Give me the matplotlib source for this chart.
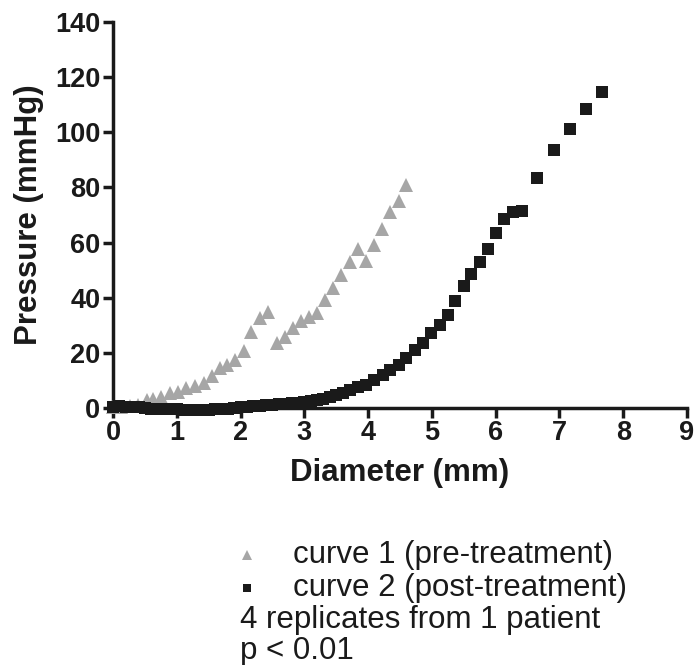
import matplotlib
matplotlib.use("Agg")
import matplotlib.pyplot as plt
from matplotlib.lines import Line2D

# Curve 1 (pre-treatment) - grey triangles
c1_x = [0.00, 0.13, 0.26, 0.39, 0.53, 0.63, 0.76, 0.89, 1.02, 1.15, 1.28, 1.42,
        1.55, 1.68, 1.79, 1.91, 2.05, 2.17, 2.30, 2.43, 2.57, 2.70, 2.82, 2.95,
        3.08, 3.20, 3.32, 3.45, 3.58, 3.71, 3.84, 3.97, 4.09, 4.22, 4.35, 4.48, 4.60]
c1_y = [0.2, 0.4, 0.7, 1.0, 2.9, 3.3, 4.1, 5.6, 5.9, 7.2, 7.8, 9.2,
        11.6, 14.4, 15.6, 17.5, 20.5, 27.7, 32.6, 35.0, 23.7, 25.9, 29.0, 31.4,
        33.1, 34.4, 39.2, 43.4, 48.4, 53.0, 57.7, 53.2, 59.3, 65.0, 71.2, 75.0, 80.8]

# Curve 2 (post-treatment) - black squares
c2_x = [0.0, 0.1, 0.2, 0.3, 0.4, 0.5, 0.6, 0.7, 0.8, 0.9, 1.0, 1.1, 1.2, 1.3,
        1.4, 1.5, 1.6, 1.7, 1.8, 1.9, 2.0, 2.1, 2.2, 2.3, 2.4, 2.5, 2.6, 2.7,
        2.8, 2.9, 3.0, 3.1, 3.2, 3.3, 3.4, 3.5, 3.6, 3.71, 3.84, 3.97, 4.09,
        4.23, 4.35, 4.48, 4.60, 4.73, 4.86, 4.99, 5.13, 5.25, 5.37, 5.50, 5.62,
        5.75, 5.88, 6.00, 6.13, 6.27, 6.41, 6.65, 6.91, 7.16, 7.42, 7.67]
c2_y = [0.5, 0.6, 0.5, 0.3, 0.2, 0.0, -0.2, -0.3, -0.4, -0.5, -0.5, -0.6, -0.6, -0.6,
        -0.6, -0.6, -0.5, -0.4, -0.2, 0.0, 0.2, 0.4, 0.6, 0.8, 1.0, 1.2, 1.3, 1.5,
        1.7, 1.9, 2.1, 2.4, 2.8, 3.3, 3.9, 4.6, 5.5, 6.5, 7.5, 8.4, 10.2,
        12.0, 13.8, 15.6, 18.1, 21.1, 23.7, 27.2, 30.2, 33.8, 38.9, 44.1, 48.7,
        53.0, 57.5, 63.4, 68.6, 71.0, 71.4, 83.5, 93.5, 101.3, 108.4, 114.7]

x_ticks = [0, 1, 2, 3, 4, 5, 6, 7, 8, 9]
y_ticks = [0, 20, 40, 60, 80, 100, 120, 140]

legend_labels = ["curve 1 (pre-treatment)", "curve 2 (post-treatment)"]
notes = ["4 replicates from 1 patient", "p < 0.01"]

plt.rcParams['font.family'] = ['Liberation Sans', 'DejaVu Sans']

W, H = 698, 665
fig = plt.figure(figsize=(W / 100, H / 100), dpi=100)
ax = fig.add_axes([113 / W, 1 - 408 / H, (687 - 113) / W, (408 - 22) / H])

grey = '#a6a6a6'
black = '#1a1a1a'

ax.plot(c1_x, c1_y, linestyle='none', marker='^', markersize=9.5,
        color=grey, markeredgewidth=0, clip_on=False, zorder=3)
ax.plot(c2_x, c2_y, linestyle='none', marker='s', markersize=8.5,
        color=black, markeredgewidth=0, clip_on=False, zorder=4)

ax.set_xlim(0, 9)
ax.set_ylim(0, 140)
ax.set_xticks(x_ticks)
ax.set_yticks(y_ticks)

for side in ['top', 'right']:
    ax.spines[side].set_visible(False)
for side in ['left', 'bottom']:
    ax.spines[side].set_linewidth(2.5)
    ax.spines[side].set_color('#1a1a1a')

ax.tick_params(axis='both', which='major', direction='out', length=7, width=2.5,
               color='#1a1a1a', labelsize=19.5, pad=2)
for lbl in ax.get_xticklabels() + ax.get_yticklabels():
    lbl.set_fontweight('bold')
    lbl.set_color('#1a1a1a')

ax.set_xlabel("Diameter (mm)", fontsize=22.5, fontweight='bold', color='#1a1a1a', labelpad=8)
ax.set_ylabel("Pressure (mmHg)", fontsize=22.5, fontweight='bold', color='#1a1a1a', labelpad=8)

# legend-like text block below the plot
rows = [555, 588, 620, 651]
fig.lines.append(Line2D([247 / W], [1 - rows[0] / H], transform=fig.transFigure,
                        marker='^', markersize=7, color=grey, linestyle='none',
                        markeredgewidth=0))
fig.lines.append(Line2D([247 / W], [1 - rows[1] / H], transform=fig.transFigure,
                        marker='s', markersize=6, color=black, linestyle='none',
                        markeredgewidth=0))
fig.text(293 / W, 1 - rows[0] / H, legend_labels[0], fontsize=22.5, va='center',
         ha='left', color='#1a1a1a')
fig.text(293 / W, 1 - rows[1] / H, legend_labels[1], fontsize=22.5, va='center',
         ha='left', color='#1a1a1a')
fig.text(240 / W, 1 - rows[2] / H, notes[0], fontsize=22.5, va='center',
         ha='left', color='#1a1a1a')
fig.text(240 / W, 1 - rows[3] / H, notes[1], fontsize=22.5, va='center',
         ha='left', color='#1a1a1a')

fig.savefig("out.png", dpi=100)
